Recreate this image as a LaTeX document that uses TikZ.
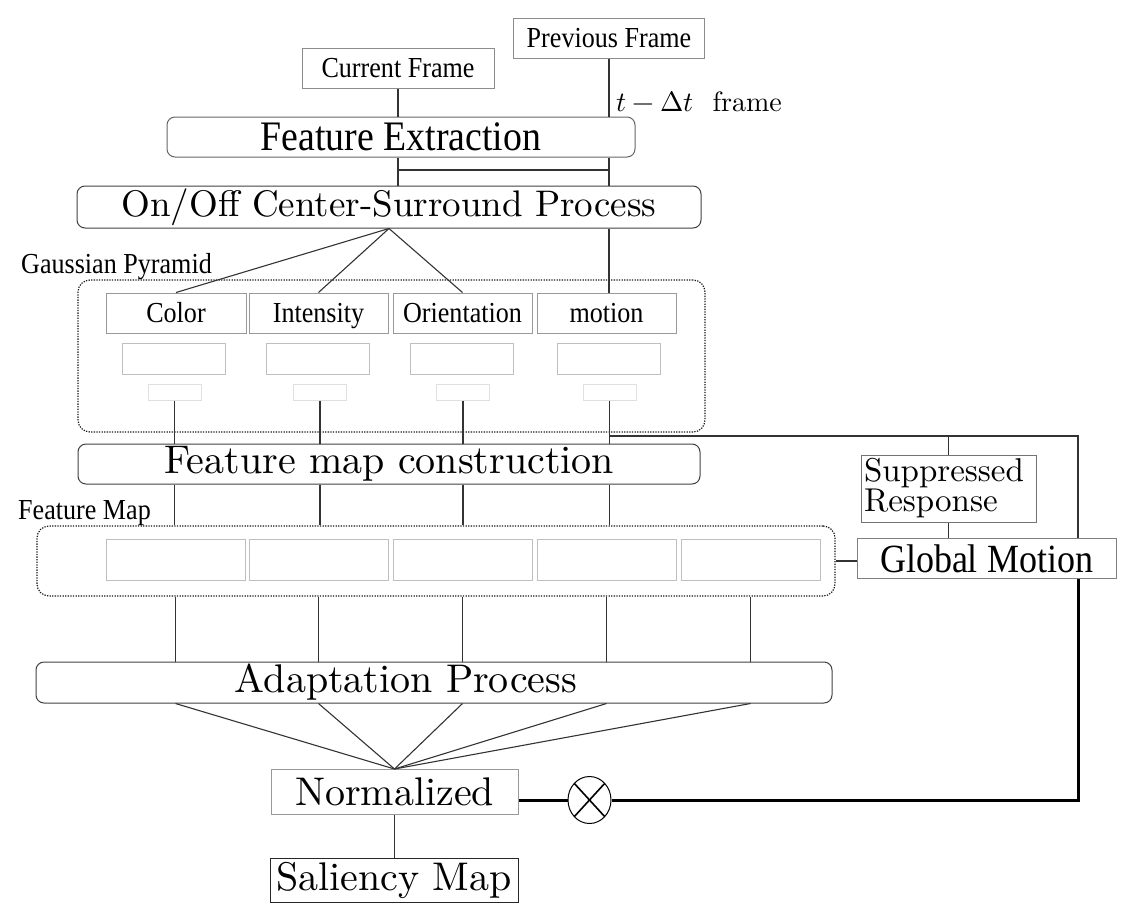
\documentclass[tikz,border=0pt]{standalone}
\usepackage{fontspec}
\usepackage{unicode-math}
\setmainfont{lmroman10-regular}[Extension=.otf]
\setmathfont{Latin Modern Math}
\newfontfamily\tnr{Liberation Serif}[FakeStretch=0.9]
\usetikzlibrary{shapes.geometric}
\newcommand{\fsz}[1]{\fontsize{#1}{#1}\selectfont}

\tikzset{
  frame/.style={draw=black!45, line width=1, inner sep=0, minimum height=40, font=\tnr\fsz{29}},
  stage/.style={draw=black!75, line width=1, rounded corners=8, inner sep=0, minimum height=41, font=\fsz{40}},
  feat/.style={draw=black!40, line width=1, inner sep=0, minimum width=139, minimum height=40,
               text height=20, text depth=1, font=\tnr\fsz{29}},
  level/.style={draw=black!25, line width=1, inner sep=0, minimum width=103, minimum height=31},
  small/.style={draw=black!12, line width=1, inner sep=0, minimum width=53, minimum height=16},
  map/.style={draw=black!25, line width=1, inner sep=0, minimum width=139, minimum height=41},
  group/.style={draw=black!90, dash pattern=on 1.3 off 1.3, line width=1.2, rounded corners=12, inner sep=0},
  tag/.style={anchor=base west, inner sep=0, font=\tnr\fsz{29}},
  conn/.style={draw=black!80, line width=1.1},
  thick conn/.style={draw=black, line width=3},
}

\begin{document}
\begin{tikzpicture}[x=1pt,y=-1pt]
  \useasboundingbox (0,0) rectangle (1128,916);

  % inputs
  \node[frame, minimum width=192] (cur) at (398,68) {Current Frame};
  \node[frame, minimum width=191] (prev) at (609,38) {Previous Frame};
  \node[anchor=base west, inner sep=0, font=\fsz{28}] (dt) at (616,111) {$t-\Delta t$\ \ frame};

  % processing stages
  \node[stage, draw=black!60, minimum width=468, minimum height=40, font=\tnr\fsz{42}] (fe) at (401,137) {Feature Extraction};
  \node[stage, minimum width=624, minimum height=42, font=\fsz{37}] (oncs) at (389,207) {On/Off Center-Surround Process};

  % gaussian pyramid
  \node[group, minimum width=627, minimum height=152] (pyr) at (391.5,356) {};
  \node[tag] (pyrlabel) at (21,273) {Gaussian Pyramid};
  \node[feat, minimum width=140] (col) at (176,313) {Color};
  \node[feat] (int) at (318.5,313) {Intensity};
  \node[feat] (ori) at (462.5,313) {Orientation};
  \node[feat] (mot) at (606.5,313) {motion};
  \foreach \n/\x in {a/174,b/317.5,c/461.5,d/608.5}
    \node[level] (p2\n) at (\x,358.5) {};
  \foreach \n/\x in {a/174.5,b/320,c/463,d/609.5}
    \node[small] (p3\n) at (\x,392) {};

  \node[stage, minimum width=622, minimum height=40] (fmc) at (389,464) {Feature map construction};

  % feature map
  \node[group, minimum width=798, minimum height=70] (fmap) at (436,561) {};
  \node[tag] (fmaplabel) at (18,519) {Feature Map};
  \foreach \n/\x in {1/175.5,2/318.5,3/462.5,4/606.5,5/750.5}
    \node[map] (fm\n) at (\x,559.5) {};

  % global motion branch
  \node[draw=black!55, line width=1, minimum width=175, minimum height=67, inner sep=3,
        text width=169, align=left, font=\fontsize{33}{27}\selectfont] (sup) at (948.5,488.5) {Suppressed\\Response};
  \node[frame, draw=black!50, minimum width=259, minimum height=40, font=\tnr\fsz{40}] (gm) at (986.5,558.5) {Global Motion};

  \node[stage, minimum width=796, minimum height=41,
        label={[xshift=-28,font=\fsz{40}]center:Adaptation Process}] (adapt) at (434,682.5) {};
  \node[draw=black!40, line width=1, inner sep=0, minimum width=247, minimum height=45, font=\fsz{40}] (norm) at (394.5,792) {Normalized};
  \node[draw, ellipse, line width=1, minimum width=43, minimum height=47, inner sep=0,
        path picture={\draw[line width=1.6] (path picture bounding box.north west) -- (path picture bounding box.south east)
                       (path picture bounding box.north east) -- (path picture bounding box.south west);}] (mult) at (589.5,800) {};
  \node[draw=black!85, line width=1, inner sep=0, minimum width=248, minimum height=44, font=\fsz{40}] (sal) at (394,880) {Saliency Map};

  % connectors
  \draw[conn] (cur) -- (cur |- fe.north);
  \draw[conn] (prev) -- (prev |- fe.north);
  \draw[conn] (cur |- fe.south) -- (cur |- oncs.north);
  \draw[conn] (prev |- fe.south) -- (prev |- oncs.north);
  \draw[conn] (cur |- 0,170) -- (prev |- 0,170);
  \draw[conn] (prev |- oncs.south) -- (prev |- mot.north);
  \foreach \n in {col,int,ori}
    \draw[conn] (oncs.south) -- (\n.north);
  \foreach \n in {a,b,c,d} {
    \draw[conn] (p3\n.south) -- (p3\n |- fmc.north);
    \draw[conn] (p3\n |- fmc.south) -- (p3\n |- fmap.north);
  }
  \coordinate (corner) at (1078,436);
  \draw[conn] (p3d |- corner) -- (corner) -- (corner |- gm.north);
  \draw[conn] (sup.north |- corner) -- (sup.north);
  \draw[conn] (sup.south) -- (sup.south |- gm.north);
  \draw[conn, line width=2] (fmap.east) -- (fmap.east -| gm.west);
  \foreach \n in {1,...,5} {
    \draw[conn] (fm\n |- fmap.south) -- (fm\n |- adapt.north);
    \draw[conn] (fm\n |- adapt.south) -- (norm.north);
  }
  \draw[conn] (norm.south) -- (norm.south |- sal.north);
  \draw[thick conn] (norm.east |- mult) -- (mult);
  \draw[thick conn] (mult) -| (corner |- gm.south);
\end{tikzpicture}
\end{document}
